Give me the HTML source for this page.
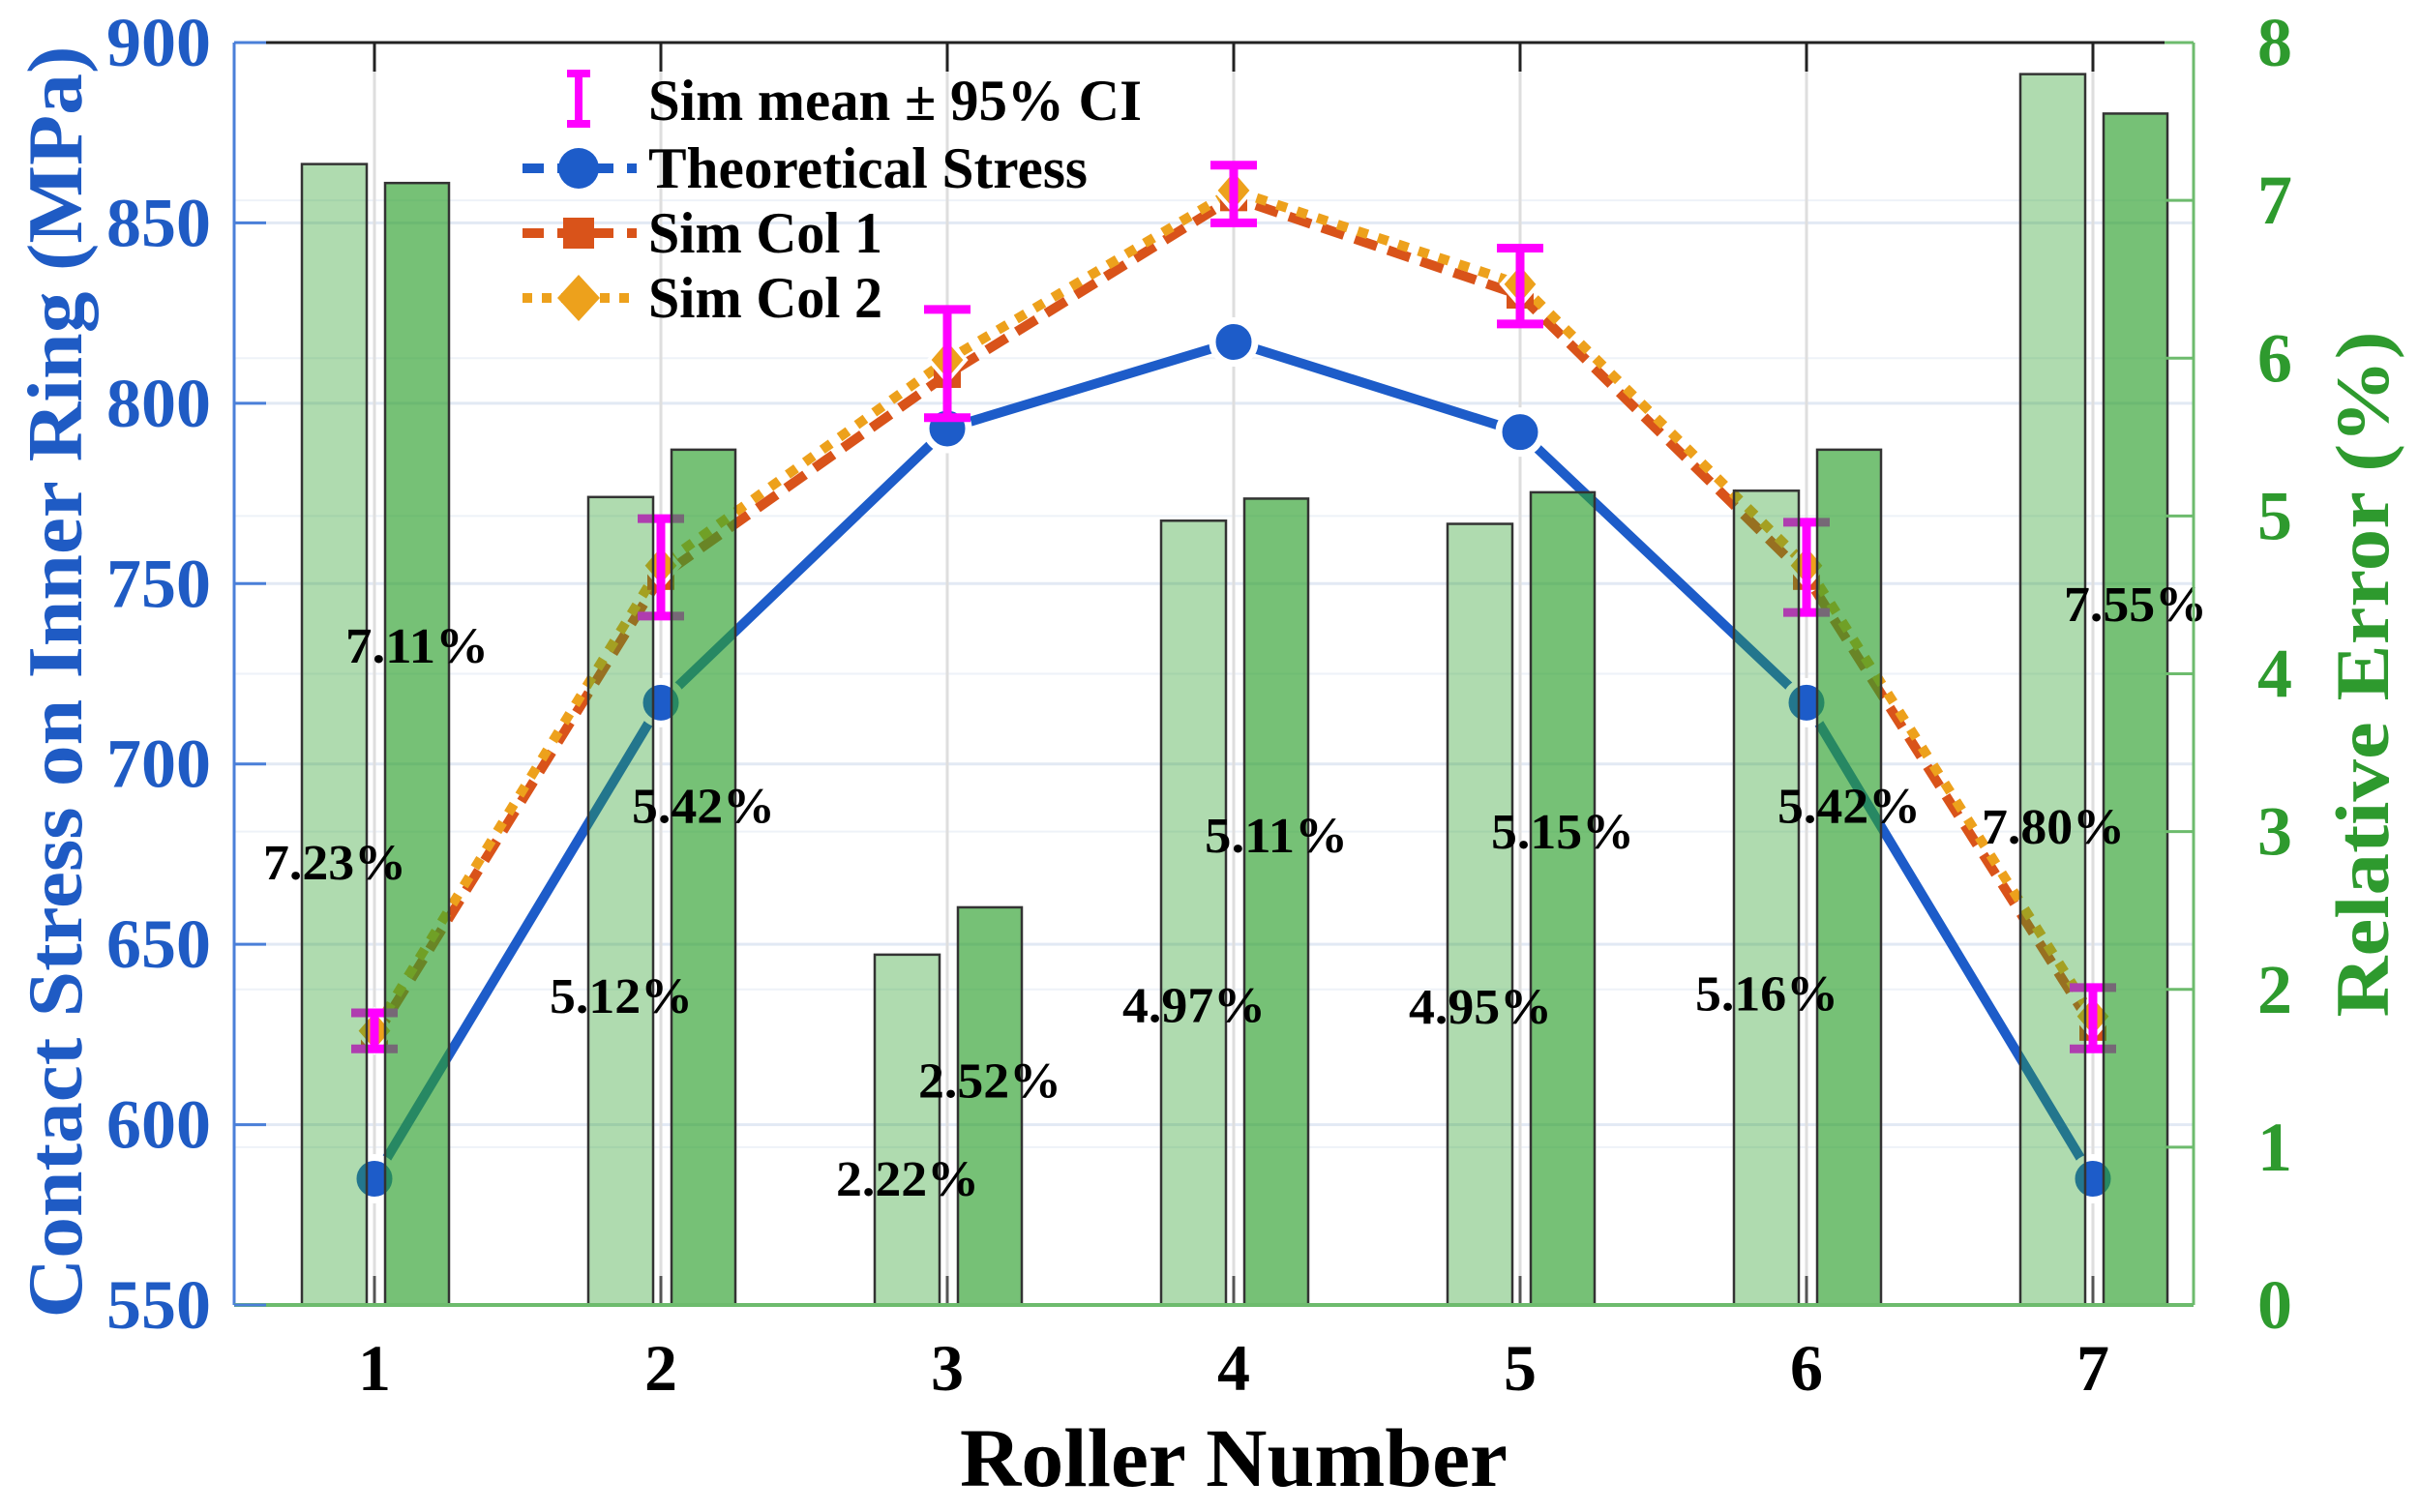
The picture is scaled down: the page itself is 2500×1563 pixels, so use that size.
<!DOCTYPE html>
<html><head><meta charset="utf-8"><style>
html,body{margin:0;padding:0;background:#fff;}
svg{display:block;}
text{font-family:"Liberation Serif","Times New Roman",Times,serif;font-weight:bold;}
</style></head><body>
<svg id="chart" width="2500" height="1563" viewBox="0 0 2500 1563" xmlns="http://www.w3.org/2000/svg"></svg>
<script>
const rollers = [1,2,3,4,5,6,7];
const theory = [585,717,793,817,792,717,585];
const simCol1 = [624,752,808,857,830,752,627];
const simCol2 = [626,755,812,859,833,755,630];
const ciLow = [621,741,796,850,822,742,621];
const ciHigh = [631,768,826,866,843,767,638];
const errCol1 = [7.23,5.12,2.22,4.97,4.95,5.16,7.80];
const errCol2 = [7.11,5.42,2.52,5.11,5.15,5.42,7.55];
const leftTicks = [550,600,650,700,750,800,850,900];
const rightTicks = [0,1,2,3,4,5,6,7,8];

const L=242,R=2267,T=44,B=1349;
const xs = r => 387 + (r-1)*296;
const yl = v => B - (v-550)/350*(B-T);
const yr = v => B - v/8*(B-T);
const NS="http://www.w3.org/2000/svg";
const FF='"Liberation Serif","Times New Roman",Times,serif';
const svg=document.getElementById('chart');
function mk(tag,attrs,parent){const e=document.createElementNS(NS,tag);for(const k in attrs)e.setAttribute(k,attrs[k]);if(tag==='text'){e.setAttribute('font-family',FF);e.setAttribute('font-weight','bold');}(parent||svg).appendChild(e);return e;}

leftTicks.forEach(v=>{const g=mk('line',{x1:L,x2:R,y1:yl(v),y2:yl(v),stroke:'#e2e9f4','stroke-width':3});

});
rightTicks.forEach(v=>{const g=mk('line',{x1:L,x2:R,y1:yr(v),y2:yr(v),stroke:'#eef2f8','stroke-width':2});

});
rollers.forEach(r=>{const g=mk('line',{x1:xs(r),x2:xs(r),y1:T,y2:B,stroke:'#dedede','stroke-width':3});

});

function poly(vals,color,dash,name){const p=mk('polyline',{points:vals.map((v,i)=>xs(rollers[i])+','+yl(v)).join(' '),fill:'none',stroke:color,'stroke-width':10,'stroke-dasharray':dash,'stroke-linejoin':'round'});

}
poly(theory,'#1d5cc9','none','theoretical-stress-line');
poly(simCol1,'#d9531a','24 12','sim-col1-line');
poly(simCol2,'#eda11c','11 11','sim-col2-line');

rollers.forEach((r,i)=>{
 const c=mk('circle',{cx:xs(r),cy:yl(theory[i]),r:22,fill:'#1d5cc9',stroke:'#fff','stroke-width':7});
 
 
 const s=mk('rect',{x:xs(r)-14,y:yl(simCol1[i])-14,width:28,height:28,fill:'#d9531a'});
 
 
 const x=xs(r),y=yl(simCol2[i]);
 const d=mk('polygon',{points:`${x},${y-22} ${x+19},${y} ${x},${y+22} ${x-19},${y}`,fill:'#eda11c',stroke:'#fff','stroke-width':4});
 
 
 const g=mk('g',{stroke:'#ff00ff','stroke-width':9});
 
 
 mk('line',{x1:x,x2:x,y1:yl(ciLow[i]),y2:yl(ciHigh[i])},g);
 mk('line',{x1:x-24,x2:x+24,y1:yl(ciLow[i]),y2:yl(ciLow[i])},g);
 mk('line',{x1:x-24,x2:x+24,y1:yl(ciHigh[i]),y2:yl(ciHigh[i])},g);
});

rollers.forEach((r,i)=>{
 const b1=mk('rect',{x:xs(r)-75,y:yr(errCol1[i]),width:67,height:B-yr(errCol1[i]),fill:'rgba(44,160,44,0.38)',stroke:'#333','stroke-width':2.5});
 
 
 const b2=mk('rect',{x:xs(r)+11,y:yr(errCol2[i]),width:66,height:B-yr(errCol2[i]),fill:'rgba(44,160,44,0.65)',stroke:'#333','stroke-width':2.5});
 
 
 const bt=mk('line',{x1:xs(r),x2:xs(r),y1:B-30,y2:B,stroke:'#555','stroke-width':3});
 
 
});
rollers.forEach((r,i)=>{
 const t1=mk('text',{x:xs(r)-41,y:yr(errCol1[i]*0.4)+32,'text-anchor':'middle','font-size':52,fill:'#000',textLength:148,lengthAdjust:'spacingAndGlyphs'});
 t1.textContent=errCol1[i].toFixed(2)+'%';
 
 
 const t2=mk('text',{x:xs(r)+44,y:yr(errCol2[i]*0.6)+32,'text-anchor':'middle','font-size':52,fill:'#000',textLength:148,lengthAdjust:'spacingAndGlyphs'});
 t2.textContent=errCol2[i].toFixed(2)+'%';
 
 
});

let a=mk('line',{x1:L,x2:R,y1:T,y2:T,stroke:'#222','stroke-width':3});


a=mk('line',{x1:L,x2:L,y1:T,y2:B,stroke:'#4a7fd8','stroke-width':3});


a=mk('line',{x1:R,x2:R,y1:T,y2:B,stroke:'#6dbb6d','stroke-width':3});


a=mk('line',{x1:L,x2:R,y1:B,y2:B,stroke:'#6dbb6d','stroke-width':4});



rollers.forEach(r=>{
 const tk=mk('line',{x1:xs(r),x2:xs(r),y1:T,y2:T+30,stroke:'#222','stroke-width':3});
 
 
 const tl=mk('text',{x:xs(r),y:1437,'text-anchor':'middle','font-size':68,fill:'#000'});
 tl.textContent=r;
 
 
});
leftTicks.forEach(v=>{
 const tk=mk('line',{x1:L,x2:L+33,y1:yl(v),y2:yl(v),stroke:'#4a7fd8','stroke-width':3});
 
 
 const tl=mk('text',{x:218,y:yl(v)+24,'text-anchor':'end','font-size':72,fill:'#1f5bc4'});
 tl.textContent=v;
 
 
});
rightTicks.forEach(v=>{
 const tk=mk('line',{x1:R-30,x2:R,y1:yr(v),y2:yr(v),stroke:'#6dbb6d','stroke-width':3});
 
 
 const tl=mk('text',{x:2333,y:yr(v)+24,'text-anchor':'start','font-size':72,fill:'#2e9a2e'});
 tl.textContent=v;
 
 
});
</script>
<svg style="position:absolute;left:0;top:0" width="2500" height="1563" font-family="'Liberation Serif','Times New Roman',Times,serif" font-weight="bold">
 <text transform="translate(84,705) rotate(-90)" text-anchor="middle" font-size="80" fill="#1f5bc4" textLength="1315" lengthAdjust="spacingAndGlyphs">Contact Stress on Inner Ring (MPa)</text>
 <text transform="translate(2468,697) rotate(-90)" text-anchor="middle" font-size="78" fill="#2e9a2e" textLength="709" lengthAdjust="spacingAndGlyphs">Relative Error (%)</text>
 <text x="1275" y="1536" text-anchor="middle" font-size="86" fill="#000" textLength="566" lengthAdjust="spacingAndGlyphs">Roller Number</text>
 <g>
  <g stroke="#ff00ff" stroke-width="8">
   <line x1="598" x2="598" y1="76" y2="128"/><line x1="586" x2="610" y1="76" y2="76"/><line x1="586" x2="610" y1="128" y2="128"/>
  </g>
  <text x="670" y="124" font-size="60" fill="#000" textLength="510" lengthAdjust="spacingAndGlyphs">Sim mean ± 95% CI</text>
  <g>
   <line x1="540" x2="658" y1="174" y2="174" stroke="#1d5cc9" stroke-width="10" stroke-dasharray="22 14"/>
   <circle cx="598" cy="174" r="21" fill="#1d5cc9"/>
  </g>
  <text x="670" y="194" font-size="60" fill="#000" textLength="454" lengthAdjust="spacingAndGlyphs">Theoretical Stress</text>
  <g>
   <line x1="540" x2="658" y1="241" y2="241" stroke="#d9531a" stroke-width="10" stroke-dasharray="22 14"/>
   <rect x="582" y="225" width="32" height="32" fill="#d9531a"/>
  </g>
  <text x="670" y="261" font-size="60" fill="#000" textLength="242" lengthAdjust="spacingAndGlyphs">Sim Col 1</text>
  <g>
   <line x1="540" x2="658" y1="308" y2="308" stroke="#eda11c" stroke-width="10" stroke-dasharray="10 10"/>
   <polygon points="598,284 620,308 598,332 576,308" fill="#eda11c"/>
  </g>
  <text x="670" y="328" font-size="60" fill="#000" textLength="242" lengthAdjust="spacingAndGlyphs">Sim Col 2</text>
 </g>
</svg>
</body></html>
